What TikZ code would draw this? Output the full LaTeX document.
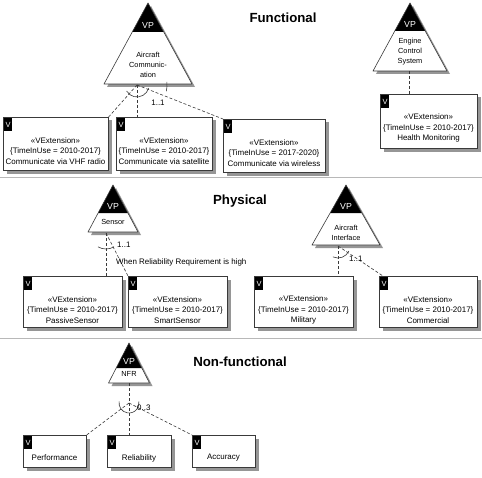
\documentclass[tikz,border=0pt]{standalone}
\usepackage{fontspec}
\setmainfont{Liberation Sans}
\usetikzlibrary{calc,backgrounds}
\definecolor{linegray}{HTML}{3A3A3A}
\definecolor{shgray}{HTML}{969696}
\definecolor{sepgray}{HTML}{B8B8B8}
\tikzset{
  vbox/.style={draw=linegray, line width=0.6bp, fill=white, anchor=north west, inner sep=0pt},
  vtag/.style={fill=black, text=white, anchor=north west, inner sep=0pt,
    minimum width=8bp, minimum height=13bp, font=\fontsize{7.5}{8}\selectfont},
  vtext/.style={align=center, font=\fontsize{8}{10.6}\selectfont, inner sep=0pt},
  tritext/.style={align=center, font=\fontsize{7.4}{10}\selectfont, inner sep=0pt},
  vptext/.style={text=white, font=\fontsize{8.8}{9}\selectfont, inner sep=0pt},
  conn/.style={draw=linegray, line width=0.6bp, dash pattern=on 3bp off 2bp},
  grp/.style={draw=linegray, line width=0.6bp},
  triline/.style={draw=linegray, line width=0.6bp, line join=round},
  lbl/.style={font=\fontsize{8}{9}\selectfont, inner sep=0pt},
  ttl/.style={font=\bfseries\fontsize{13.3}{15}\selectfont, inner sep=0pt},
  sepline/.style={draw=sepgray, line width=1bp},
  boxshadow/.style={fill=shgray}
}
\newcommand\vptri[6]{% name, apex x, apex y, half base, base y, cap y
  \pgfmathsetmacro\capw{#4*(#6-#3)/(#5-#3)}
  \fill[shgray] ({#2+3},{#3+3}) -- ({#2+#4+3},{#5+3}) -- ({#2-#4+3},{#5+3}) -- cycle;
  \fill[white] (#2,#3) -- ({#2+#4},#5) -- ({#2-#4},#5) -- cycle;
  \fill[black] (#2,#3) -- ({#2+\capw},#6) -- ({#2-\capw},#6) -- cycle;
  \draw[triline] (#2,#3) -- ({#2+#4},#5) -- ({#2-#4},#5) -- cycle;
  \node[vptext] (#1vp) at (#2,{#6-7}) {VP};
}
\newcommand\boxsh[1]{%
  \fill[boxshadow] ([shift={(3.5bp,-3.5bp)}]#1.south west) rectangle ([shift={(3.5bp,-3.5bp)}]#1.north east);
}
\begin{document}
\begin{tikzpicture}[x=1bp,y=-1bp]
\useasboundingbox (0,0) rectangle (482,478);
\begin{scope}[on background layer]
\fill[white] (0,0) rectangle (482,478);
\end{scope}

% separators
\draw[sepline] (0,178) -- (482,178);
\draw[sepline] (0,338) -- (482,338);

% titles
\node[ttl] (tf) at (283,18) {Functional};
\node[ttl] (tp) at (240,201) {Physical};
\node[ttl] (tn) at (240,362) {Non-functional};

% ---------- Functional ----------
\vptri{ta}{148}{3}{44}{84}{32}
\node[tritext] (talbl) at (148,65) {Aircraft\\Communic-\\ation};
\vptri{te}{410}{3}{37}{71}{31}
\node[tritext] (telbl) at (410,52) {Engine\\Control\\System};

\node[vbox, minimum width=105bp, minimum height=53bp] (b1) at (3,117) {};
\node[vbox, minimum width=96bp, minimum height=53bp] (b2) at (116,117) {};
\node[vbox, minimum width=102bp, minimum height=53bp] (b3) at (223,119) {};
\node[vbox, minimum width=97bp, minimum height=54bp] (b4) at (380,94) {};

\node[vtag] (b1v) at ([shift={(1bp,-1bp)}]b1.north west) {V};
\node[vtag] (b2v) at ([shift={(1bp,-1bp)}]b2.north west) {V};
\node[vtag] (b3v) at ([shift={(1bp,-1bp)}]b3.north west) {V};
\node[vtag] (b4v) at ([shift={(1bp,-1bp)}]b4.north west) {V};

\node[vtext] (b1t) at (55.5,151) {«VExtension»\\\{TimeInUse = 2010-2017\}\\Communicate via VHF radio};
\node[vtext] (b2t) at (164,151) {«VExtension»\\\{TimeInUse = 2010-2017\}\\Communicate via satellite};
\node[vtext] (b3t) at (274,153) {«VExtension»\\\{TimeInUse = 2017-2020\}\\Communicate via wireless};
\node[vtext] (b4t) at (428.5,128) {«VExtension»\\\{TimeInUse = 2010-2017\}\\Health Monitoring};

\coordinate (c1) at (137,85);
\coordinate (c2) at (409,71);
\draw[conn] (c1) -- (b1.north east);
\draw[conn] (c1) -- (c1 |- b2.north);
\draw[conn] (c1) -- (b3.north west);
\draw[grp] (c1) ++(150:12) arc[start angle=150, end angle=15, radius=12];
\draw[grp] (c1) ++(12:30) arc[start angle=12, end angle=-6, radius=30];
\node[lbl] (m1) at (158,103) {1..1};
\draw[conn] (c2) -- (c2 |- b4.north);

% ---------- Physical ----------
\vptri{ts}{113}{185}{25}{232}{213}
\node[tritext] (tslbl) at (113,222) {Sensor};
\vptri{ti}{346}{185}{34}{245}{213}
\node[tritext] (tilbl) at (346,233) {Aircraft\\Interface};

\node[vbox, minimum width=99bp, minimum height=51bp] (b5) at (23,276) {};
\node[vbox, minimum width=99bp, minimum height=51bp] (b6) at (128,276) {};
\node[vbox, minimum width=99bp, minimum height=51bp] (b7) at (254,276) {};
\node[vbox, minimum width=98bp, minimum height=51bp] (b8) at (379,276) {};

\node[vtag] (b5v) at ([shift={(1bp,-1bp)}]b5.north west) {V};
\node[vtag] (b6v) at ([shift={(1bp,-1bp)}]b6.north west) {V};
\node[vtag] (b7v) at ([shift={(1bp,-1bp)}]b7.north west) {V};
\node[vtag] (b8v) at ([shift={(1bp,-1bp)}]b8.north west) {V};

\node[vtext] (b5t) at (72.5,310) {«VExtension»\\\{TimeInUse = 2010-2017\}\\PassiveSensor};
\node[vtext] (b6t) at (177.5,310) {«VExtension»\\\{TimeInUse = 2010-2017\}\\SmartSensor};
\node[vtext] (b7t) at (303.5,310) {«VExtension»\\\{TimeInUse = 2010-2017\}\\Military};
\node[vtext] (b8t) at (428,310) {«VExtension»\\\{TimeInUse = 2010-2017\}\\Commercial};

\coordinate (c3) at (106,233);
\coordinate (c4) at (338,246);
\draw[conn] (c3) -- (c3 |- b5.north);
\draw[conn] (c3) -- (b6.north west);
\draw[grp] (c3) ++(120:16) arc[start angle=120, end angle=60, radius=16];
\node[lbl, anchor=west] (m3) at (117,245) {1..1};
\node[lbl, anchor=west] (m3b) at (116,262) {When Reliability Requirement is high};
\draw[conn] (c4) -- (c4 |- b7.north);
\draw[conn] (c4) -- ([xshift=4bp]b8.north west);
\draw[grp] (c4) ++(115:12) arc[start angle=115, end angle=25, radius=12];
\node[lbl, anchor=west] (m4) at (349,259) {1..1};

% ---------- Non-functional ----------
\vptri{tn}{129}{343}{20.5}{383}{368}
\node[tritext] (tnlbl) at (129,374) {NFR};

\node[vbox, minimum width=63bp, minimum height=32bp] (b9) at (23,435) {};
\node[vbox, minimum width=64bp, minimum height=32bp] (b10) at (107,435) {};
\node[vbox, minimum width=63bp, minimum height=32bp] (b11) at (192,435) {};

\node[vtag] (b9v) at ([shift={(1bp,-1bp)}]b9.north west) {V};
\node[vtag] (b10v) at ([shift={(1bp,-1bp)}]b10.north west) {V};
\node[vtag] (b11v) at ([shift={(1bp,-1bp)}]b11.north west) {V};

\node[vtext] (b9t) at (54.5,458) {Performance};
\node[vtext] (b10t) at (139,458) {Reliability};
\node[vtext] (b11t) at (223.5,458) {Accuracy};

\coordinate (t5) at (129,383);
\coordinate (c5) at (129,403);
\draw[conn] (t5) -- (t5 |- b10.north);
\draw[conn] (c5) -- (b9.north east);
\draw[conn] (c5) -- (b11.north west);
\draw[grp] (c5) ++(190:10) arc[start angle=190, end angle=-10, radius=10];
\node[lbl, anchor=west] (m5) at (137,408) {0..3};

% box shadows
\begin{scope}[on background layer]
\boxsh{b1}\boxsh{b2}\boxsh{b3}\boxsh{b4}
\boxsh{b5}\boxsh{b6}\boxsh{b7}\boxsh{b8}
\boxsh{b9}\boxsh{b10}\boxsh{b11}
\end{scope}
\end{tikzpicture}
\end{document}
